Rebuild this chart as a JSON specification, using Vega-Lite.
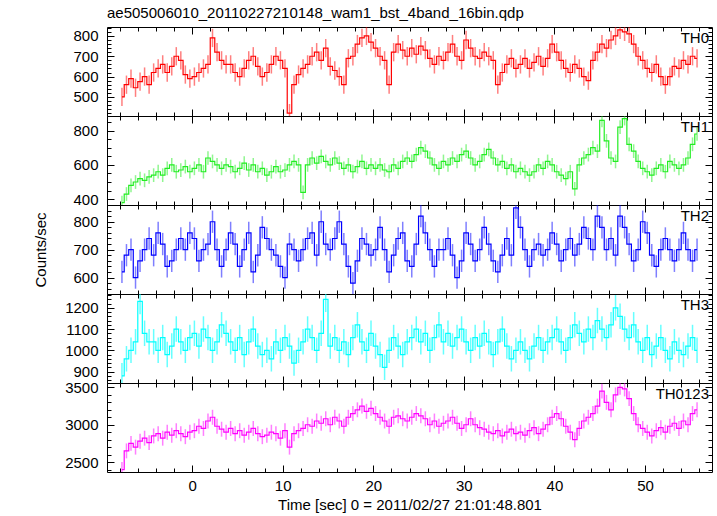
{
"$schema": "https://vega.github.io/schema/vega-lite/v6.json",
"background": "white",
"padding": {"left": 33, "top": 6, "right": 6, "bottom": 2},
"bounds": "flush",
"spacing": 0,
"title": {"text": "ae505006010_20110227210148_wam1_bst_4band_16bin.qdp", "anchor": "start", "frame": "group", "fontSize": 15, "font": "Liberation Sans", "fontWeight": "normal", "color": "#000", "offset": -1},
"datasets": {
"errs": [{"p": "TH0", "e": 45}, {"p": "TH1", "e": 40}, {"p": "TH2", "e": 40}, {"p": "TH3", "e": 60}, {"p": "TH0123", "e": 100}],
"lc": [
{"t":-7.75,"TH0":500,"TH1":380,"TH2":620,"TH3":880,"TH0123":2400},
{"t":-7.25,"TH0":560,"TH1":430,"TH2":680,"TH3":960,"TH0123":2650},
{"t":-6.75,"TH0":590,"TH1":480,"TH2":700,"TH3":1000,"TH0123":2750},
{"t":-6.25,"TH0":545,"TH1":500,"TH2":600,"TH3":1040,"TH0123":2700},
{"t":-5.75,"TH0":575,"TH1":520,"TH2":660,"TH3":1230,"TH0123":2780},
{"t":-5.25,"TH0":600,"TH1":510,"TH2":700,"TH3":1080,"TH0123":2820},
{"t":-4.75,"TH0":560,"TH1":530,"TH2":740,"TH3":1040,"TH0123":2760},
{"t":-4.25,"TH0":620,"TH1":540,"TH2":680,"TH3":1040,"TH0123":2850},
{"t":-3.75,"TH0":640,"TH1":560,"TH2":760,"TH3":1000,"TH0123":2880},
{"t":-3.25,"TH0":660,"TH1":540,"TH2":720,"TH3":1060,"TH0123":2820},
{"t":-2.75,"TH0":620,"TH1":580,"TH2":640,"TH3":980,"TH0123":2900},
{"t":-2.25,"TH0":650,"TH1":600,"TH2":660,"TH3":1020,"TH0123":2860},
{"t":-1.75,"TH0":700,"TH1":560,"TH2":700,"TH3":1100,"TH0123":2920},
{"t":-1.25,"TH0":680,"TH1":570,"TH2":740,"TH3":1040,"TH0123":2880},
{"t":-0.75,"TH0":610,"TH1":590,"TH2":700,"TH3":1000,"TH0123":2840},
{"t":-0.25,"TH0":590,"TH1":560,"TH2":760,"TH3":1060,"TH0123":2900},
{"t":0.25,"TH0":600,"TH1":580,"TH2":740,"TH3":1080,"TH0123":2920},
{"t":0.75,"TH0":620,"TH1":600,"TH2":660,"TH3":1020,"TH0123":2980},
{"t":1.25,"TH0":640,"TH1":560,"TH2":700,"TH3":1100,"TH0123":2950},
{"t":1.75,"TH0":660,"TH1":640,"TH2":720,"TH3":1060,"TH0123":3050},
{"t":2.25,"TH0":790,"TH1":620,"TH2":800,"TH3":1000,"TH0123":3100},
{"t":2.75,"TH0":720,"TH1":600,"TH2":700,"TH3":1040,"TH0123":2980},
{"t":3.25,"TH0":680,"TH1":580,"TH2":640,"TH3":1120,"TH0123":2940},
{"t":3.75,"TH0":660,"TH1":600,"TH2":700,"TH3":1080,"TH0123":2900},
{"t":4.25,"TH0":660,"TH1":590,"TH2":760,"TH3":1040,"TH0123":2950},
{"t":4.75,"TH0":620,"TH1":560,"TH2":720,"TH3":1000,"TH0123":2880},
{"t":5.25,"TH0":600,"TH1":580,"TH2":640,"TH3":1060,"TH0123":2920},
{"t":5.75,"TH0":640,"TH1":610,"TH2":700,"TH3":980,"TH0123":2860},
{"t":6.25,"TH0":680,"TH1":570,"TH2":760,"TH3":1040,"TH0123":2900},
{"t":6.75,"TH0":700,"TH1":600,"TH2":620,"TH3":1100,"TH0123":2950},
{"t":7.25,"TH0":650,"TH1":560,"TH2":680,"TH3":1020,"TH0123":2880},
{"t":7.75,"TH0":600,"TH1":580,"TH2":780,"TH3":980,"TH0123":2840},
{"t":8.25,"TH0":620,"TH1":540,"TH2":740,"TH3":1000,"TH0123":2860},
{"t":8.75,"TH0":660,"TH1":560,"TH2":700,"TH3":960,"TH0123":2900},
{"t":9.25,"TH0":700,"TH1":590,"TH2":680,"TH3":1040,"TH0123":2880},
{"t":9.75,"TH0":680,"TH1":560,"TH2":640,"TH3":1000,"TH0123":2820},
{"t":10.25,"TH0":640,"TH1":570,"TH2":600,"TH3":1060,"TH0123":2920},
{"t":10.75,"TH0":420,"TH1":600,"TH2":720,"TH3":1020,"TH0123":2700},
{"t":11.25,"TH0":560,"TH1":620,"TH2":700,"TH3":940,"TH0123":2880},
{"t":11.75,"TH0":610,"TH1":600,"TH2":660,"TH3":1000,"TH0123":2920},
{"t":12.25,"TH0":640,"TH1":440,"TH2":700,"TH3":1040,"TH0123":2950},
{"t":12.75,"TH0":660,"TH1":600,"TH2":740,"TH3":1100,"TH0123":3000},
{"t":13.25,"TH0":700,"TH1":640,"TH2":760,"TH3":1060,"TH0123":2980},
{"t":13.75,"TH0":720,"TH1":610,"TH2":680,"TH3":1000,"TH0123":3050},
{"t":14.25,"TH0":680,"TH1":650,"TH2":800,"TH3":1080,"TH0123":3020},
{"t":14.75,"TH0":740,"TH1":620,"TH2":720,"TH3":1240,"TH0123":3080},
{"t":15.25,"TH0":650,"TH1":600,"TH2":700,"TH3":1020,"TH0123":3000},
{"t":15.75,"TH0":630,"TH1":640,"TH2":740,"TH3":1060,"TH0123":3100},
{"t":16.25,"TH0":600,"TH1":610,"TH2":800,"TH3":1000,"TH0123":3050},
{"t":16.75,"TH0":560,"TH1":580,"TH2":720,"TH3":1040,"TH0123":2980},
{"t":17.25,"TH0":690,"TH1":600,"TH2":640,"TH3":980,"TH0123":3100},
{"t":17.75,"TH0":700,"TH1":560,"TH2":580,"TH3":1060,"TH0123":3150},
{"t":18.25,"TH0":760,"TH1":590,"TH2":660,"TH3":1120,"TH0123":3200},
{"t":18.75,"TH0":790,"TH1":620,"TH2":740,"TH3":1040,"TH0123":3250},
{"t":19.25,"TH0":800,"TH1":580,"TH2":720,"TH3":1000,"TH0123":3180},
{"t":19.75,"TH0":770,"TH1":600,"TH2":680,"TH3":1080,"TH0123":3220},
{"t":20.25,"TH0":740,"TH1":580,"TH2":700,"TH3":1020,"TH0123":3150},
{"t":20.75,"TH0":700,"TH1":600,"TH2":780,"TH3":980,"TH0123":3100},
{"t":21.25,"TH0":680,"TH1":570,"TH2":700,"TH3":920,"TH0123":3050},
{"t":21.75,"TH0":560,"TH1":560,"TH2":620,"TH3":1000,"TH0123":2980},
{"t":22.25,"TH0":720,"TH1":600,"TH2":680,"TH3":1060,"TH0123":3100},
{"t":22.75,"TH0":760,"TH1":580,"TH2":740,"TH3":1020,"TH0123":3120},
{"t":23.25,"TH0":730,"TH1":620,"TH2":760,"TH3":980,"TH0123":3080},
{"t":23.75,"TH0":700,"TH1":640,"TH2":660,"TH3":1040,"TH0123":3050},
{"t":24.25,"TH0":740,"TH1":620,"TH2":640,"TH3":1060,"TH0123":3100},
{"t":24.75,"TH0":710,"TH1":660,"TH2":720,"TH3":1100,"TH0123":3150},
{"t":25.25,"TH0":750,"TH1":700,"TH2":820,"TH3":1040,"TH0123":3120},
{"t":25.75,"TH0":730,"TH1":680,"TH2":760,"TH3":1080,"TH0123":3080},
{"t":26.25,"TH0":690,"TH1":640,"TH2":700,"TH3":1000,"TH0123":3000},
{"t":26.75,"TH0":660,"TH1":600,"TH2":640,"TH3":1060,"TH0123":3050},
{"t":27.25,"TH0":700,"TH1":580,"TH2":700,"TH3":1120,"TH0123":2980},
{"t":27.75,"TH0":680,"TH1":620,"TH2":700,"TH3":1040,"TH0123":3020},
{"t":28.25,"TH0":720,"TH1":600,"TH2":740,"TH3":1080,"TH0123":3050},
{"t":28.75,"TH0":760,"TH1":640,"TH2":680,"TH3":1020,"TH0123":3100},
{"t":29.25,"TH0":700,"TH1":620,"TH2":600,"TH3":1060,"TH0123":3020},
{"t":29.75,"TH0":680,"TH1":660,"TH2":660,"TH3":1100,"TH0123":2950},
{"t":30.25,"TH0":780,"TH1":680,"TH2":760,"TH3":1040,"TH0123":3000},
{"t":30.75,"TH0":740,"TH1":640,"TH2":720,"TH3":1000,"TH0123":3080},
{"t":31.25,"TH0":700,"TH1":600,"TH2":660,"TH3":1060,"TH0123":3000},
{"t":31.75,"TH0":690,"TH1":620,"TH2":700,"TH3":1020,"TH0123":2960},
{"t":32.25,"TH0":720,"TH1":660,"TH2":780,"TH3":1080,"TH0123":2940},
{"t":32.75,"TH0":700,"TH1":690,"TH2":720,"TH3":1040,"TH0123":2900},
{"t":33.25,"TH0":680,"TH1":640,"TH2":660,"TH3":980,"TH0123":2880},
{"t":33.75,"TH0":560,"TH1":600,"TH2":620,"TH3":1040,"TH0123":2920},
{"t":34.25,"TH0":620,"TH1":620,"TH2":680,"TH3":1100,"TH0123":2850},
{"t":34.75,"TH0":660,"TH1":580,"TH2":740,"TH3":1020,"TH0123":2900},
{"t":35.25,"TH0":690,"TH1":600,"TH2":680,"TH3":960,"TH0123":2940},
{"t":35.75,"TH0":640,"TH1":560,"TH2":850,"TH3":1000,"TH0123":2880},
{"t":36.25,"TH0":660,"TH1":580,"TH2":780,"TH3":1040,"TH0123":2900},
{"t":36.75,"TH0":690,"TH1":560,"TH2":700,"TH3":1000,"TH0123":2860},
{"t":37.25,"TH0":640,"TH1":540,"TH2":640,"TH3":960,"TH0123":2920},
{"t":37.75,"TH0":670,"TH1":560,"TH2":700,"TH3":1020,"TH0123":2960},
{"t":38.25,"TH0":700,"TH1":600,"TH2":720,"TH3":1060,"TH0123":2880},
{"t":38.75,"TH0":650,"TH1":580,"TH2":680,"TH3":1000,"TH0123":2940},
{"t":39.25,"TH0":690,"TH1":620,"TH2":700,"TH3":1040,"TH0123":3000},
{"t":39.75,"TH0":760,"TH1":600,"TH2":760,"TH3":1060,"TH0123":3100},
{"t":40.25,"TH0":720,"TH1":560,"TH2":720,"TH3":1100,"TH0123":3150},
{"t":40.75,"TH0":680,"TH1":540,"TH2":660,"TH3":1040,"TH0123":3080},
{"t":41.25,"TH0":640,"TH1":520,"TH2":700,"TH3":1000,"TH0123":2980},
{"t":41.75,"TH0":620,"TH1":560,"TH2":740,"TH3":1060,"TH0123":2900},
{"t":42.25,"TH0":660,"TH1":460,"TH2":680,"TH3":1120,"TH0123":2800},
{"t":42.75,"TH0":640,"TH1":600,"TH2":720,"TH3":1080,"TH0123":2950},
{"t":43.25,"TH0":600,"TH1":640,"TH2":780,"TH3":1040,"TH0123":3050},
{"t":43.75,"TH0":580,"TH1":660,"TH2":740,"TH3":1100,"TH0123":3100},
{"t":44.25,"TH0":680,"TH1":700,"TH2":700,"TH3":1060,"TH0123":3150},
{"t":44.75,"TH0":720,"TH1":680,"TH2":820,"TH3":1140,"TH0123":3250},
{"t":45.25,"TH0":760,"TH1":860,"TH2":780,"TH3":1100,"TH0123":3450},
{"t":45.75,"TH0":740,"TH1":740,"TH2":700,"TH3":1060,"TH0123":3300},
{"t":46.25,"TH0":780,"TH1":640,"TH2":740,"TH3":1120,"TH0123":3200},
{"t":46.75,"TH0":800,"TH1":620,"TH2":680,"TH3":1200,"TH0123":3400},
{"t":47.25,"TH0":830,"TH1":820,"TH2":820,"TH3":1160,"TH0123":3500},
{"t":47.75,"TH0":820,"TH1":870,"TH2":780,"TH3":1100,"TH0123":3480},
{"t":48.25,"TH0":810,"TH1":720,"TH2":720,"TH3":1060,"TH0123":3350},
{"t":48.75,"TH0":760,"TH1":680,"TH2":660,"TH3":1120,"TH0123":3150},
{"t":49.25,"TH0":700,"TH1":620,"TH2":700,"TH3":1040,"TH0123":3000},
{"t":49.75,"TH0":680,"TH1":580,"TH2":800,"TH3":1000,"TH0123":2950},
{"t":50.25,"TH0":640,"TH1":560,"TH2":760,"TH3":1060,"TH0123":2900},
{"t":50.75,"TH0":620,"TH1":540,"TH2":680,"TH3":980,"TH0123":2850},
{"t":51.25,"TH0":660,"TH1":580,"TH2":640,"TH3":1020,"TH0123":2920},
{"t":51.75,"TH0":600,"TH1":600,"TH2":700,"TH3":1060,"TH0123":2960},
{"t":52.25,"TH0":560,"TH1":560,"TH2":740,"TH3":1000,"TH0123":2900},
{"t":52.75,"TH0":600,"TH1":620,"TH2":700,"TH3":960,"TH0123":2980},
{"t":53.25,"TH0":650,"TH1":600,"TH2":660,"TH3":1040,"TH0123":3020},
{"t":53.75,"TH0":640,"TH1":580,"TH2":700,"TH3":1000,"TH0123":2950},
{"t":54.25,"TH0":680,"TH1":600,"TH2":760,"TH3":980,"TH0123":3050},
{"t":54.75,"TH0":660,"TH1":640,"TH2":700,"TH3":1020,"TH0123":3000},
{"t":55.25,"TH0":700,"TH1":720,"TH2":660,"TH3":1060,"TH0123":3150},
{"t":55.75,"TH0":690,"TH1":780,"TH2":700,"TH3":1000,"TH0123":3200}
]
},
"vconcat": [
{
"width": 605, "height": 89,
"data": {"name": "lc"},
"transform": [{"fold": ["TH0","TH1","TH2","TH3","TH0123"], "as": ["p","v"]}, {"lookup": "p", "from": {"data": {"name": "errs"}, "key": "p", "fields": ["e"]}}, {"filter": "datum.p === 'TH0'"}],
"layer": [
{"mark": {"type": "errorbar", "color": "#ff0000", "thickness": 1.5, "rule": {"opacity": 0.5}, "clip": true},
 "encoding": {
  "x": {"field": "t", "type": "quantitative", "scale": {"domain": [-9.4, 57.4], "nice": false, "zero": false}, "axis": {"orient": "bottom", "values": [-8,-6,-4,-2,0,2,4,6,8,10,12,14,16,18,20,22,24,26,28,30,32,34,36,38,40,42,44,46,48,50,52,54,56], "labels": false, "tickSize": {"condition": {"test": "datum.value % 10 === 0", "value": -7}, "value": -4}, "title": null}},
  "y": {"field": "v", "type": "quantitative", "scale": {"domain": [406, 844], "nice": false, "zero": false}, "axis": {"orient": "left", "format": "d", "values": [420,440,460,480,500,520,540,560,580,600,620,640,660,680,700,720,740,760,780,800,820,840], "labelExpr": "datum.value % 100 === 0 ? datum.label : ''", "tickSize": {"condition": {"test": "datum.value % 100 === 0", "value": -7}, "value": -4}, "labelPadding": 16, "title": null}},
  "yError": {"field": "e"}}},
{"mark": {"type": "line", "interpolate": "step", "color": "#ff0000", "strokeWidth": 1.2, "clip": true},
 "encoding": {
  "x": {"field": "t", "type": "quantitative", "scale": {"domain": [-9.4, 57.4], "nice": false, "zero": false}, "axis": {"orient": "top", "values": [-8,-6,-4,-2,0,2,4,6,8,10,12,14,16,18,20,22,24,26,28,30,32,34,36,38,40,42,44,46,48,50,52,54,56], "labels": false, "tickSize": {"condition": {"test": "datum.value % 10 === 0", "value": -7}, "value": -4}, "title": null}},
  "y": {"field": "v", "type": "quantitative", "scale": {"domain": [406, 844], "nice": false, "zero": false}, "axis": {"orient": "right", "values": [420,440,460,480,500,520,540,560,580,600,620,640,660,680,700,720,740,760,780,800,820,840], "labels": false, "tickSize": {"condition": {"test": "datum.value % 100 === 0", "value": -7}, "value": -4}, "title": null}}}},
{"data": {"values": [{"label": "TH0"}]},
 "mark": {"type": "text", "align": "right", "baseline": "top", "dx": -3, "dy": 4, "fontSize": 15, "font": "Liberation Sans", "color": "#000"},
 "encoding": {"text": {"field": "label"}, "x": {"datum": 57.4, "type": "quantitative", "axis": null}, "y": {"datum": 844, "type": "quantitative", "axis": null}}}
],
"resolve": {"axis": {"x": "independent", "y": "independent"}}
},
{
"width": 605, "height": 89,
"data": {"name": "lc"},
"transform": [{"fold": ["TH0","TH1","TH2","TH3","TH0123"], "as": ["p","v"]}, {"lookup": "p", "from": {"data": {"name": "errs"}, "key": "p", "fields": ["e"]}}, {"filter": "datum.p === 'TH1'"}],
"layer": [
{"mark": {"type": "errorbar", "color": "#22ee22", "thickness": 1.5, "rule": {"opacity": 0.5}, "clip": true},
 "encoding": {
  "x": {"field": "t", "type": "quantitative", "scale": {"domain": [-9.4, 57.4], "nice": false, "zero": false}, "axis": {"orient": "bottom", "values": [-8,-6,-4,-2,0,2,4,6,8,10,12,14,16,18,20,22,24,26,28,30,32,34,36,38,40,42,44,46,48,50,52,54,56], "labels": false, "tickSize": {"condition": {"test": "datum.value % 10 === 0", "value": -7}, "value": -4}, "title": null}},
  "y": {"field": "v", "type": "quantitative", "scale": {"domain": [366, 885], "nice": false, "zero": false}, "axis": {"orient": "left", "format": "d", "values": [400,450,500,550,600,650,700,750,800,850], "labelExpr": "datum.value % 200 === 0 ? datum.label : ''", "tickSize": {"condition": {"test": "datum.value % 200 === 0", "value": -7}, "value": -4}, "labelPadding": 16, "title": null}},
  "yError": {"field": "e"}}},
{"mark": {"type": "line", "interpolate": "step", "color": "#22ee22", "strokeWidth": 1.2, "clip": true},
 "encoding": {
  "x": {"field": "t", "type": "quantitative", "scale": {"domain": [-9.4, 57.4], "nice": false, "zero": false}, "axis": {"orient": "top", "values": [-8,-6,-4,-2,0,2,4,6,8,10,12,14,16,18,20,22,24,26,28,30,32,34,36,38,40,42,44,46,48,50,52,54,56], "labels": false, "tickSize": {"condition": {"test": "datum.value % 10 === 0", "value": -7}, "value": -4}, "title": null}},
  "y": {"field": "v", "type": "quantitative", "scale": {"domain": [366, 885], "nice": false, "zero": false}, "axis": {"orient": "right", "values": [400,450,500,550,600,650,700,750,800,850], "labels": false, "tickSize": {"condition": {"test": "datum.value % 200 === 0", "value": -7}, "value": -4}, "title": null}}}},
{"data": {"values": [{"label": "TH1"}]},
 "mark": {"type": "text", "align": "right", "baseline": "top", "dx": -3, "dy": 4, "fontSize": 15, "font": "Liberation Sans", "color": "#000"},
 "encoding": {"text": {"field": "label"}, "x": {"datum": 57.4, "type": "quantitative", "axis": null}, "y": {"datum": 885, "type": "quantitative", "axis": null}}}
],
"resolve": {"axis": {"x": "independent", "y": "independent"}}
},
{
"width": 605, "height": 89,
"data": {"name": "lc"},
"transform": [{"fold": ["TH0","TH1","TH2","TH3","TH0123"], "as": ["p","v"]}, {"lookup": "p", "from": {"data": {"name": "errs"}, "key": "p", "fields": ["e"]}}, {"filter": "datum.p === 'TH2'"}],
"layer": [
{"mark": {"type": "errorbar", "color": "#0000ff", "thickness": 1.5, "rule": {"opacity": 0.5}, "clip": true},
 "encoding": {
  "x": {"field": "t", "type": "quantitative", "scale": {"domain": [-9.4, 57.4], "nice": false, "zero": false}, "axis": {"orient": "bottom", "values": [-8,-6,-4,-2,0,2,4,6,8,10,12,14,16,18,20,22,24,26,28,30,32,34,36,38,40,42,44,46,48,50,52,54,56], "labels": false, "tickSize": {"condition": {"test": "datum.value % 10 === 0", "value": -7}, "value": -4}, "title": null}},
  "y": {"field": "v", "type": "quantitative", "scale": {"domain": [541, 860], "nice": false, "zero": false}, "axis": {"orient": "left", "format": "d", "values": [560,580,600,620,640,660,680,700,720,740,760,780,800,820,840,860], "labelExpr": "datum.value % 100 === 0 ? datum.label : ''", "tickSize": {"condition": {"test": "datum.value % 100 === 0", "value": -7}, "value": -4}, "labelPadding": 16, "title": "Counts/sec", "titlePadding": 24}},
  "yError": {"field": "e"}}},
{"mark": {"type": "line", "interpolate": "step", "color": "#0000ff", "strokeWidth": 1.2, "clip": true},
 "encoding": {
  "x": {"field": "t", "type": "quantitative", "scale": {"domain": [-9.4, 57.4], "nice": false, "zero": false}, "axis": {"orient": "top", "values": [-8,-6,-4,-2,0,2,4,6,8,10,12,14,16,18,20,22,24,26,28,30,32,34,36,38,40,42,44,46,48,50,52,54,56], "labels": false, "tickSize": {"condition": {"test": "datum.value % 10 === 0", "value": -7}, "value": -4}, "title": null}},
  "y": {"field": "v", "type": "quantitative", "scale": {"domain": [541, 860], "nice": false, "zero": false}, "axis": {"orient": "right", "values": [560,580,600,620,640,660,680,700,720,740,760,780,800,820,840,860], "labels": false, "tickSize": {"condition": {"test": "datum.value % 100 === 0", "value": -7}, "value": -4}, "title": null}}}},
{"data": {"values": [{"label": "TH2"}]},
 "mark": {"type": "text", "align": "right", "baseline": "top", "dx": -3, "dy": 4, "fontSize": 15, "font": "Liberation Sans", "color": "#000"},
 "encoding": {"text": {"field": "label"}, "x": {"datum": 57.4, "type": "quantitative", "axis": null}, "y": {"datum": 860, "type": "quantitative", "axis": null}}}
],
"resolve": {"axis": {"x": "independent", "y": "independent"}}
},
{
"width": 605, "height": 89,
"data": {"name": "lc"},
"transform": [{"fold": ["TH0","TH1","TH2","TH3","TH0123"], "as": ["p","v"]}, {"lookup": "p", "from": {"data": {"name": "errs"}, "key": "p", "fields": ["e"]}}, {"filter": "datum.p === 'TH3'"}],
"layer": [
{"mark": {"type": "errorbar", "color": "#00ffff", "thickness": 1.5, "rule": {"opacity": 0.6}, "clip": true},
 "encoding": {
  "x": {"field": "t", "type": "quantitative", "scale": {"domain": [-9.4, 57.4], "nice": false, "zero": false}, "axis": {"orient": "bottom", "values": [-8,-6,-4,-2,0,2,4,6,8,10,12,14,16,18,20,22,24,26,28,30,32,34,36,38,40,42,44,46,48,50,52,54,56], "labels": false, "tickSize": {"condition": {"test": "datum.value % 10 === 0", "value": -7}, "value": -4}, "title": null}},
  "y": {"field": "v", "type": "quantitative", "scale": {"domain": [846, 1265], "nice": false, "zero": false}, "axis": {"orient": "left", "format": "d", "values": [860,880,900,920,940,960,980,1000,1020,1040,1060,1080,1100,1120,1140,1160,1180,1200,1220,1240,1260], "labelExpr": "datum.value % 100 === 0 ? datum.label : ''", "tickSize": {"condition": {"test": "datum.value % 100 === 0", "value": -7}, "value": -4}, "labelPadding": 16, "title": null}},
  "yError": {"field": "e"}}},
{"mark": {"type": "line", "interpolate": "step", "color": "#00ffff", "strokeWidth": 1.2, "clip": true},
 "encoding": {
  "x": {"field": "t", "type": "quantitative", "scale": {"domain": [-9.4, 57.4], "nice": false, "zero": false}, "axis": {"orient": "top", "values": [-8,-6,-4,-2,0,2,4,6,8,10,12,14,16,18,20,22,24,26,28,30,32,34,36,38,40,42,44,46,48,50,52,54,56], "labels": false, "tickSize": {"condition": {"test": "datum.value % 10 === 0", "value": -7}, "value": -4}, "title": null}},
  "y": {"field": "v", "type": "quantitative", "scale": {"domain": [846, 1265], "nice": false, "zero": false}, "axis": {"orient": "right", "values": [860,880,900,920,940,960,980,1000,1020,1040,1060,1080,1100,1120,1140,1160,1180,1200,1220,1240,1260], "labels": false, "tickSize": {"condition": {"test": "datum.value % 100 === 0", "value": -7}, "value": -4}, "title": null}}}},
{"data": {"values": [{"label": "TH3"}]},
 "mark": {"type": "text", "align": "right", "baseline": "top", "dx": -3, "dy": 4, "fontSize": 15, "font": "Liberation Sans", "color": "#000"},
 "encoding": {"text": {"field": "label"}, "x": {"datum": 57.4, "type": "quantitative", "axis": null}, "y": {"datum": 1265, "type": "quantitative", "axis": null}}}
],
"resolve": {"axis": {"x": "independent", "y": "independent"}}
},
{
"width": 605, "height": 89,
"data": {"name": "lc"},
"transform": [{"fold": ["TH0","TH1","TH2","TH3","TH0123"], "as": ["p","v"]}, {"lookup": "p", "from": {"data": {"name": "errs"}, "key": "p", "fields": ["e"]}}, {"filter": "datum.p === 'TH0123'"}],
"layer": [
{"mark": {"type": "errorbar", "color": "#ff00ff", "thickness": 1.5, "rule": {"opacity": 0.5}, "clip": true},
 "encoding": {
  "x": {"field": "t", "type": "quantitative", "scale": {"domain": [-9.4, 57.4], "nice": false, "zero": false}, "axis": {"orient": "bottom", "values": [-8,-6,-4,-2,0,2,4,6,8,10,12,14,16,18,20,22,24,26,28,30,32,34,36,38,40,42,44,46,48,50,52,54,56], "labels": true, "labelExpr": "datum.value % 10 === 0 ? datum.label : ''", "tickSize": {"condition": {"test": "datum.value % 10 === 0", "value": -7}, "value": -4}, "labelPadding": 13, "title": "Time [sec] 0 = 2011/02/27 21:01:48.801", "titlePadding": 1}},
  "y": {"field": "v", "type": "quantitative", "scale": {"domain": [2367, 3559], "nice": false, "zero": false}, "axis": {"orient": "left", "format": "d", "values": [2400,2500,2600,2700,2800,2900,3000,3100,3200,3300,3400,3500], "labelExpr": "datum.value % 500 === 0 ? datum.label : ''", "tickSize": {"condition": {"test": "datum.value % 500 === 0", "value": -7}, "value": -4}, "labelPadding": 16, "title": null}},
  "yError": {"field": "e"}}},
{"mark": {"type": "line", "interpolate": "step", "color": "#ff00ff", "strokeWidth": 1.2, "clip": true},
 "encoding": {
  "x": {"field": "t", "type": "quantitative", "scale": {"domain": [-9.4, 57.4], "nice": false, "zero": false}, "axis": {"orient": "top", "values": [-8,-6,-4,-2,0,2,4,6,8,10,12,14,16,18,20,22,24,26,28,30,32,34,36,38,40,42,44,46,48,50,52,54,56], "labels": false, "tickSize": {"condition": {"test": "datum.value % 10 === 0", "value": -7}, "value": -4}, "title": null}},
  "y": {"field": "v", "type": "quantitative", "scale": {"domain": [2367, 3559], "nice": false, "zero": false}, "axis": {"orient": "right", "values": [2400,2500,2600,2700,2800,2900,3000,3100,3200,3300,3400,3500], "labels": false, "tickSize": {"condition": {"test": "datum.value % 500 === 0", "value": -7}, "value": -4}, "title": null}}}},
{"data": {"values": [{"label": "TH0123"}]},
 "mark": {"type": "text", "align": "right", "baseline": "top", "dx": -3, "dy": 4, "fontSize": 15, "font": "Liberation Sans", "color": "#000"},
 "encoding": {"text": {"field": "label"}, "x": {"datum": 57.4, "type": "quantitative", "axis": null}, "y": {"datum": 3559, "type": "quantitative", "axis": null}}}
],
"resolve": {"axis": {"x": "independent", "y": "independent"}}
}
],
"config": {
"font": "Liberation Sans",
"view": {"stroke": "#000", "strokeWidth": 1},
"axis": {"domain": false, "grid": false, "labelFont": "Liberation Sans", "labelFontSize": 15, "labelColor": "#000", "tickColor": "#000", "tickWidth": 1, "titleFont": "Liberation Sans", "titleFontSize": 15, "titleFontWeight": "normal", "titleColor": "#000", "labelOverlap": false, "labelFlush": false, "labelBound": false}
}
}
